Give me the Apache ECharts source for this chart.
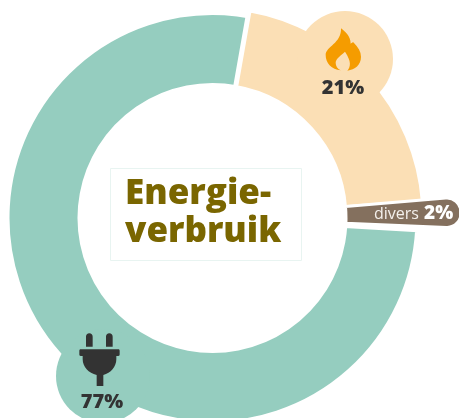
<!DOCTYPE html>
<html><head><meta charset="utf-8">
<style>html,body{margin:0;padding:0;background:#fff}#c{width:459px;height:418px}</style>
<script src="https://cdn.jsdelivr.net/npm/echarts@6/dist/echarts.min.js"></script>
</head><body><div id="c"></div>
<script>
const categories = ['warmte', 'divers', 'elektriciteit'];
const values = [21, 2, 77];
const colors = ['#FBDFB5', '#84705E', '#95CDBF'];
const titleLines = ['Energie-', 'verbruik'];
const FONT = '"Open Sans","Noto Sans",sans-serif';
const CX = 212.5, CY = 218;
const flameD = 'M333 85 C345 95 362 108 362 131 C366 128 369 126 370 127 C385 142 393 156 393 170 C393 195 375 208 352 212 C362 200 365 185 345 155 C335 165 317 175 317 188 C317 198 322 206 332 211 C305 208 287 190 287 165 C287 140 335 130 333 85 Z';
const plugD = 'M148 70 C154 70 158 74 158 80 L158 110 L138 110 L138 80 C138 74 142 70 148 70 Z M208 70 C214 70 218 74 218 80 L218 110 L198 110 L198 80 C198 74 202 70 208 70 Z M122 118 L235 118 C238 118 239 120 239 123 L239 133 C239 136 238 138 235 138 L229 138 L229 148 C229 170 212 190 190 195 L190 228 L170 228 L170 195 C146 190 128 170 128 148 L128 138 L122 138 C119 138 118 136 118 133 L118 123 C118 120 119 118 122 118 Z';
echarts.graphic.registerShape('flameIcon', echarts.graphic.extendPath(flameD, {}));
echarts.graphic.registerShape('plugIcon', echarts.graphic.extendPath(plugD, {}));
const chart = echarts.init(document.getElementById('c'), null, {renderer: 'canvas'});
const item = (i, show, extra) => ({
  name: categories[i], value: values[i],
  itemStyle: show ? Object.assign({color: colors[i], borderColor: '#fff', borderWidth: 5}, extra || {})
                  : {color: 'transparent', borderWidth: 0}
});
const pie = (radius, shown, startAngle, extra) => ({
  type: 'pie', center: [CX, CY], radius, startAngle, clockwise: true, silent: true,
  animation: false, label: {show: false}, labelLine: {show: false},
  data: categories.map((_, i) => item(i, i === shown, extra)),
  emphasis: {disabled: true}
});
const txt = (x, y, text, size, weight, fill, align) => ({
  type: 'text', x, y, z: 20, style: {text, fontFamily: FONT, fontSize: size, fontWeight: weight, fill,
    textAlign: align || 'center', textVerticalAlign: 'middle'}
});
const icon = (type, x, y, fill) => ({type, x, y, scaleX: 1/3, scaleY: 1/3, z: 15, style: {fill}});
chart.setOption({
  animation: false,
  backgroundColor: '#fff',
  series: [
    pie([132.5, 205.5], 2, 79.5),
    pie([132.5, 211.5], 0, 80),
    pie([133.5, 248.5], 1, 80.5, {borderRadius: [0, 14], borderWidth: 3})
  ],
  graphic: [
    {type: 'circle', z: 5, shape: {cx: 345, cy: 59, r: 48}, style: {fill: colors[0]}},
    {type: 'circle', z: 5, shape: {cx: 103, cy: 376, r: 47}, style: {fill: colors[2]}},
    {type: 'rect', z: 6, shape: {x: 110.5, y: 168.5, width: 191, height: 92}, style: {fill: '#fff', stroke: '#E8F4F1', lineWidth: 1}},
    txt(125, 194.5, titleLines[0], 35, 800, '#7A6600', 'left'),
    txt(125, 232.5, titleLines[1], 35, 800, '#7A6600', 'left'),
    icon('flameIcon', 230, 0, '#F59C00'),
    icon('plugIcon', 40, 310, '#333333'),
    txt(343, 88, values[0] + '%', 20, 800, '#333333'),
    txt(102, 402, values[2] + '%', 20, 800, '#333333'),
    txt(374, 214, categories[1], 16, 400, '#F4F0EC', 'left'),
    txt(424, 214, values[1] + '%', 19, 800, '#FFFFFF', 'left')
  ]
});
</script></body></html>
